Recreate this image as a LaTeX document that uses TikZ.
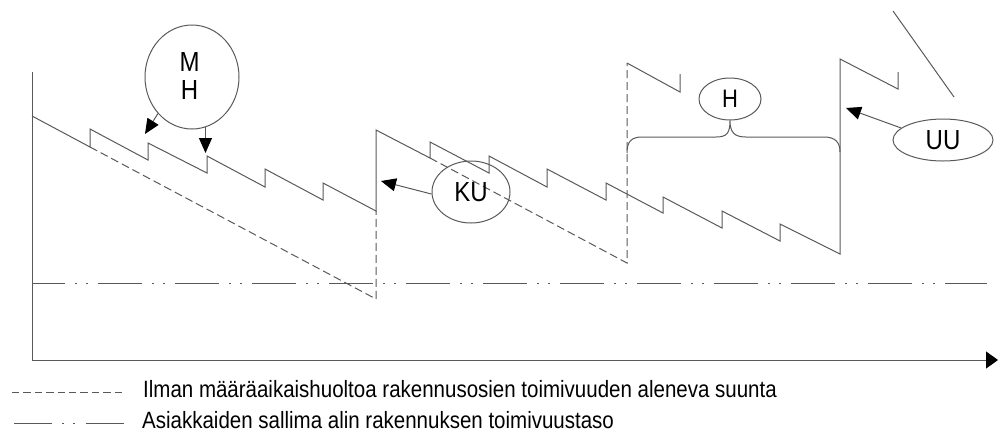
\documentclass[tikz,border=0pt]{standalone}
\usepackage{fontspec}
\setmainfont{Liberation Sans}
\usetikzlibrary{arrows.meta,shapes.geometric}
% labels are set a little taller than their natural shape
\newcommand\tallish[1]{\scalebox{1}[1.15]{#1}}

\begin{document}
\begin{tikzpicture}[x=1pt,y=-1pt,
  ln/.style={draw=black!65,line width=1pt,line join=miter},
  dsh/.style={ln,dash pattern=on 8pt off 4pt},
  dashdots/.style={ln,dash pattern=on 44pt off 10pt on 1.5pt off 9.5pt on 1.5pt off 10.5pt,dash phase=11pt},
  bubble/.style={ellipse,draw=black!65,line width=1pt,inner sep=0pt},
  pointer/.style={ln,-{Triangle[length=15pt,width=13pt,color=black]}},
  legendtext/.style={anchor=base west,inner sep=0pt,font=\fontsize{20.5}{24}\selectfont}
]
\useasboundingbox (0,0) rectangle (998,432);

% axes
\coordinate (ytop) at (32,72);
\coordinate (origin) at (32,360);
\coordinate (xend) at (998,360);
\draw[ln,-{Triangle[length=12pt,width=17pt,color=black]}] (ytop) -- (origin) -- (xend);

% lowest level accepted by the customers
\draw[dashdots] (32,283) -- (987,283);

% decline without scheduled maintenance
\draw[dsh] (90,147) -- (376,299) -- (376,211);
\draw[dsh] (430,158) -- (627,263) -- (627,63);

% condition with maintenance, first period
\draw[ln] (32,116) -- (90,147) -- (90,129) -- (148,160) -- (148,143)
  -- (207,173) -- (207,156) -- (265,187) -- (265,169) -- (323,200)
  -- (323,183) -- (376,211) -- (376,130)
% second period
  -- (430,158) -- (430,142) -- (489,173) -- (489,156) -- (547,187)
  -- (547,169) -- (606,200) -- (606,183) -- (663,213) -- (663,197)
  -- (722,228) -- (722,211) -- (780,241) -- (780,224) -- (840,254)
  -- (840,59) -- (898,89) -- (898,72);
\draw[ln] (627,63) -- (680,92) -- (680,74);
\draw[ln] (893,11) -- (954,97);

% bubbles
\node[bubble,minimum width=94pt,minimum height=104pt] (mh) at (192,77) {};
\node[inner sep=0pt] (mhtext) at (189.5,80)
  {\fontsize{24}{24.5}\selectfont\tallish{\begin{tabular}{@{}c@{}}M\\H\end{tabular}}};
\node[bubble,minimum width=78pt,minimum height=62pt] (ku) at (471,192)
  {\fontsize{24}{26}\selectfont\tallish{KU}};
\node[bubble,minimum width=62pt,minimum height=42pt] (h) at (730,99)
  {\fontsize{22}{24}\selectfont\tallish{H}};
\node[bubble,minimum width=100pt,minimum height=42pt] (uu) at (943,140)
  {\fontsize{24}{26}\selectfont\tallish{UU}};

% arrow targets
\coordinate (mhA) at (145,134);
\coordinate (mhB) at (205,153);
\coordinate (kuT) at (381,181);
\coordinate (uuT) at (846,108);
\draw[pointer] (mh.227) -- (mhA);
\draw[pointer] (mh.285) -- (mh.285 |- mhB);
\draw[pointer] (ku.183) -- (kuT);
\draw[pointer] (uu.164) -- (uuT);

% brace below H
\draw[ln] (627,153) .. controls (627,142) and (631,137) .. (642,137) -- (716,137)
  .. controls (727,137) and (730,133) .. (h.south)
  .. controls (730,133) and (735,137) .. (746,137) -- (824,137)
  .. controls (835,137) and (840,142) .. (840,152);

% legend
\draw[ln,dash pattern=on 7.4pt off 4pt] (12,392) -- (122,392);
\node[legendtext] (leg1) at (143,397) {\tallish{Ilman määräaikaishuoltoa rakennusosien toimivuuden aleneva suunta}};
\draw[ln,dash pattern=on 38pt off 10pt on 1.5pt off 9.5pt on 1.5pt off 11pt] (14,423) -- (124,423);
\node[legendtext] (leg2) at (142,428) {\tallish{Asiakkaiden sallima alin rakennuksen toimivuustaso}};
\end{tikzpicture}
\end{document}
